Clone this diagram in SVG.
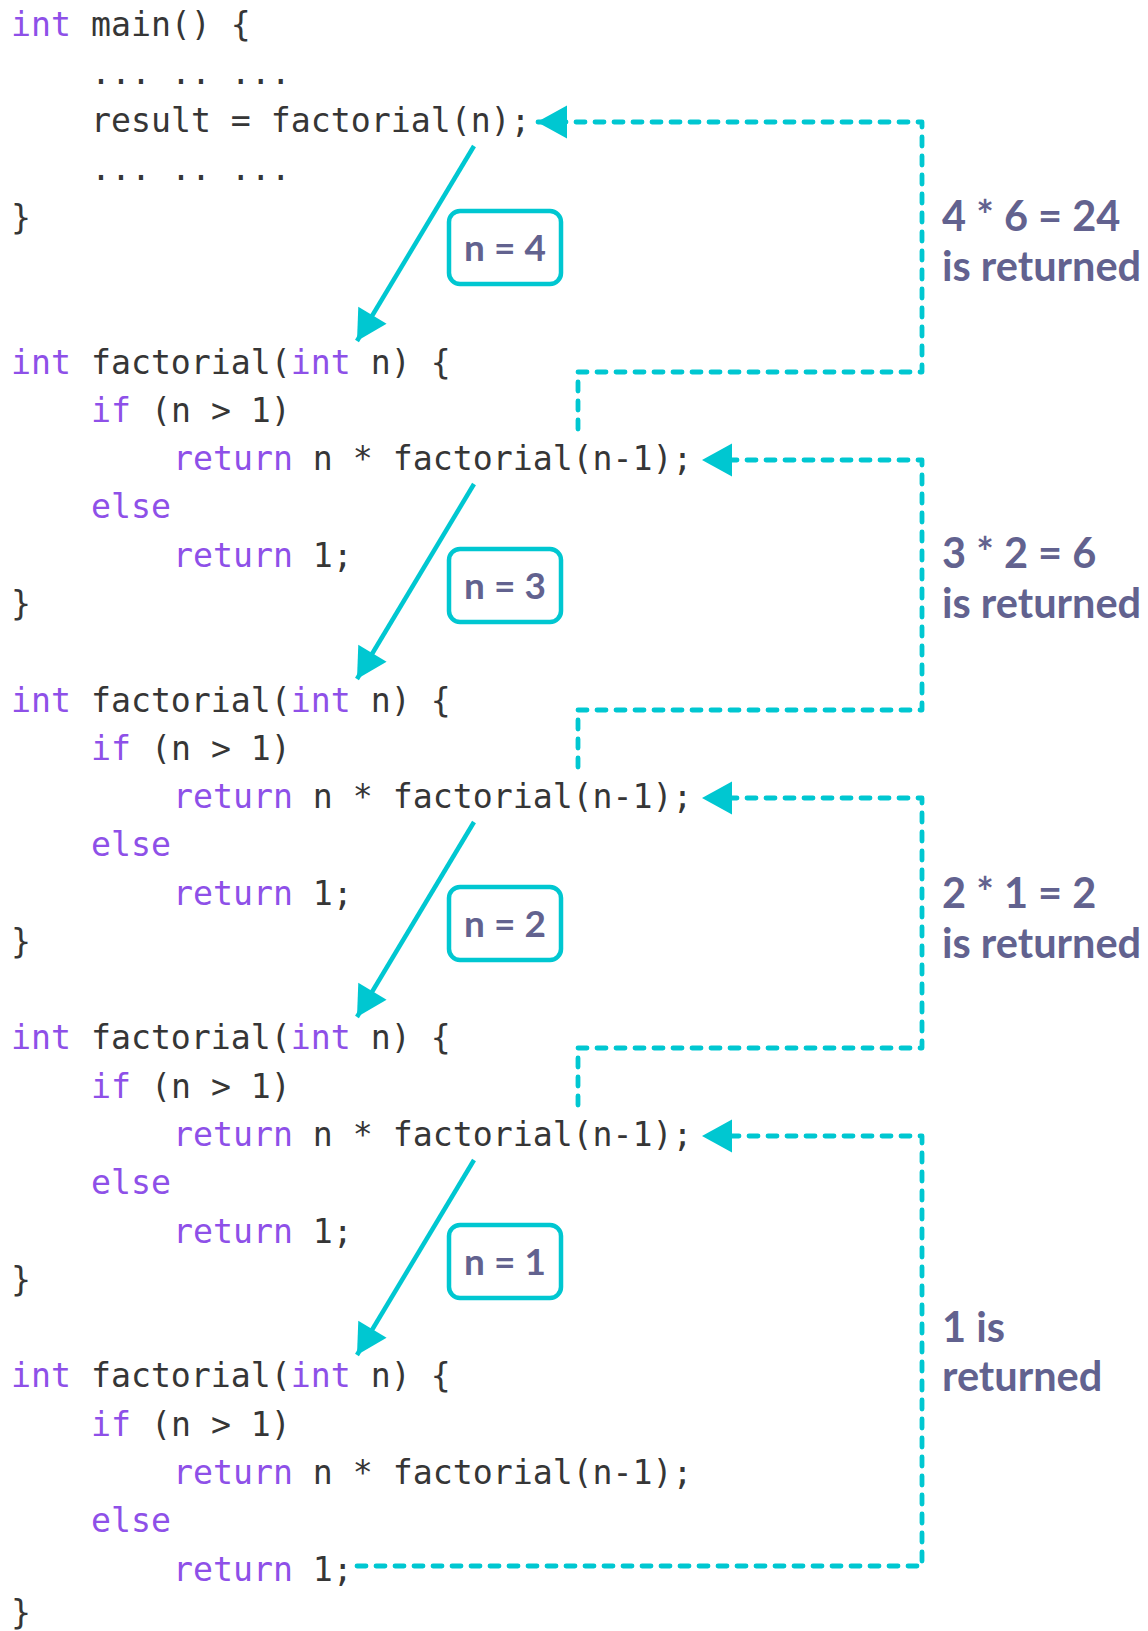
<svg xmlns="http://www.w3.org/2000/svg" width="1148" height="1631" viewBox="0 0 1148 1631">
<style>
.code{font-family:"DejaVu Sans Mono","Liberation Mono",monospace;font-size:33.2px;fill:#363636}
.k{fill:#8e50e8}
.lbl{font-family:Lato,"Noto Sans",sans-serif;font-weight:700;font-size:41.5px;fill:#62628f}
.box{fill:#fff;stroke:#00c7d1;stroke-width:4.5}
.boxt{font-family:Lato,"Noto Sans",sans-serif;font-weight:700;font-size:37px;fill:#62628f;text-anchor:middle}
.solid{stroke:#00c7d1;stroke-width:4.5;fill:none;marker-end:url(#head)}
.dash{stroke:#00c7d1;stroke-width:4.8;fill:none;stroke-dasharray:9 10;stroke-linecap:round;stroke-linejoin:round}
.dashm{marker-end:url(#head)}
</style>
<defs>
<marker id="head" markerUnits="userSpaceOnUse" markerWidth="31" markerHeight="34" refX="30" refY="16.5" orient="auto" overflow="visible">
<path d="M0,0 L30,16.5 L0,33 Z" fill="#00c7d1"/>
</marker>
</defs>
<rect width="1148" height="1631" fill="#fff"/>

<g id="main">
<text class="code" x="11" y="35.5"><tspan class="k">int</tspan> main() {</text>
<text class="code" x="91" y="83.8">... .. ...</text>
<text class="code" x="91" y="132.1">result = factorial(n);</text>
<text class="code" x="91" y="180.3">... .. ...</text>
<text class="code" x="11" y="228.6">}</text>
</g>

<g id="call-n4">
<text class="code" x="11" y="373.5"><tspan class="k">int</tspan> factorial(<tspan class="k">int</tspan> n) {</text>
<text class="code" x="91" y="421.8"><tspan class="k">if</tspan> (n &gt; 1)</text>
<text class="code" x="173" y="470.1"><tspan class="k">return</tspan> n * factorial(n-1);</text>
<text class="code" x="91" y="518.4"><tspan class="k">else</tspan></text>
<text class="code" x="173" y="566.6"><tspan class="k">return</tspan> 1;</text>
<text class="code" x="11" y="614.9">}</text>
</g>

<g id="call-n3">
<text class="code" x="11" y="711.5"><tspan class="k">int</tspan> factorial(<tspan class="k">int</tspan> n) {</text>
<text class="code" x="91" y="759.8"><tspan class="k">if</tspan> (n &gt; 1)</text>
<text class="code" x="173" y="808.1"><tspan class="k">return</tspan> n * factorial(n-1);</text>
<text class="code" x="91" y="856.3"><tspan class="k">else</tspan></text>
<text class="code" x="173" y="904.6"><tspan class="k">return</tspan> 1;</text>
<text class="code" x="11" y="952.9">}</text>
</g>

<g id="call-n2">
<text class="code" x="11" y="1049.4"><tspan class="k">int</tspan> factorial(<tspan class="k">int</tspan> n) {</text>
<text class="code" x="91" y="1097.7"><tspan class="k">if</tspan> (n &gt; 1)</text>
<text class="code" x="173" y="1146"><tspan class="k">return</tspan> n * factorial(n-1);</text>
<text class="code" x="91" y="1194.3"><tspan class="k">else</tspan></text>
<text class="code" x="173" y="1242.6"><tspan class="k">return</tspan> 1;</text>
<text class="code" x="11" y="1290.9">}</text>
</g>

<g id="call-n1">
<text class="code" x="11" y="1387.4"><tspan class="k">int</tspan> factorial(<tspan class="k">int</tspan> n) {</text>
<text class="code" x="91" y="1435.7"><tspan class="k">if</tspan> (n &gt; 1)</text>
<text class="code" x="173" y="1484"><tspan class="k">return</tspan> n * factorial(n-1);</text>
<text class="code" x="91" y="1532.2"><tspan class="k">else</tspan></text>
<text class="code" x="173" y="1580.5"><tspan class="k">return</tspan> 1;</text>
<text class="code" x="11" y="1624">}</text>
</g>

<g id="connectors">
<line class="solid" x1="474" y1="146" x2="357" y2="341"/>
<line class="solid" x1="474" y1="484" x2="357" y2="679"/>
<line class="solid" x1="474" y1="822" x2="357" y2="1017"/>
<line class="solid" x1="474" y1="1160" x2="357" y2="1355"/>
<path class="dash dashm" d="M578,429 V372 H922 V122 H537"/>
<path class="dash dashm" d="M578,767 V710 H922 V460 H702"/>
<path class="dash dashm" d="M578,1105 V1048 H922 V798 H702"/>
<path class="dash dashm" d="M357,1566 H922 V1136 H702"/>
</g>

<g id="box-n4"><rect class="box" x="449" y="211" width="112" height="73" rx="11"/><text class="boxt" x="505" y="261">n = 4</text></g>
<g id="box-n3"><rect class="box" x="449" y="549" width="112" height="73" rx="11"/><text class="boxt" x="505" y="599">n = 3</text></g>
<g id="box-n2"><rect class="box" x="449" y="887" width="112" height="73" rx="11"/><text class="boxt" x="505" y="937">n = 2</text></g>
<g id="box-n1"><rect class="box" x="449" y="1225" width="112" height="73" rx="11"/><text class="boxt" x="505" y="1275">n = 1</text></g>

<g id="label-24"><text class="lbl" x="942" y="231">4 * 6 = 24</text><text class="lbl" x="942" y="281">is returned</text></g>
<g id="label-6"><text class="lbl" x="942" y="568">3 * 2 = 6</text><text class="lbl" x="942" y="618">is returned</text></g>
<g id="label-2"><text class="lbl" x="942" y="908">2 * 1 = 2</text><text class="lbl" x="942" y="958">is returned</text></g>
<g id="label-1"><text class="lbl" x="942" y="1342">1 is</text><text class="lbl" x="942" y="1391">returned</text></g>
</svg>
